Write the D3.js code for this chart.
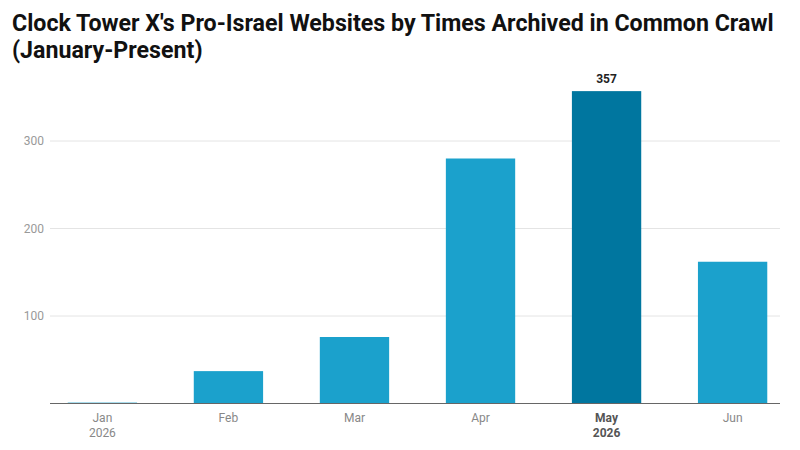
<!DOCTYPE html>
<html><head><meta charset="utf-8">
<script src="https://cdn.jsdelivr.net/npm/d3@7"></script>
<style>body{margin:0;background:#fff;font-family:Roboto,sans-serif}</style>
</head><body>
<svg id="chart" width="800" height="450"></svg>
<script>
var months = ["Jan", "Feb", "Mar", "Apr", "May", "Jun"];
var years = ["2026", "", "", "", "2026", ""];
var counts = [1, 37, 76, 280, 357, 162];
var highlight = "May";
var yTicks = [100, 200, 300];

var svg = d3.select("#chart");
var margin = {left: 50, right: 20, top: 90, bottom: 47};
var W = 800, H = 450;

svg.append("text").attr("x", 12).attr("y", 31)
  .attr("font-size", 23.2).attr("font-weight", "bold").attr("fill", "#111")
  .text("Clock Tower X's Pro-Israel Websites by Times Archived in Common Crawl");
svg.append("text").attr("x", 12).attr("y", 58)
  .attr("font-size", 23.2).attr("font-weight", "bold").attr("fill", "#111")
  .text("(January-Present)");

var x = d3.scaleBand().domain(months).range([40, 795]).paddingInner(0.45).paddingOuter(0.22);
var y = d3.scaleLinear().domain([0, 400]).range([403.5, 53.5]);

// grid
svg.selectAll("line.grid").data(yTicks).enter().append("line")
  .attr("x1", margin.left).attr("x2", 780)
  .attr("y1", function(d) { return y(d); }).attr("y2", function(d) { return y(d); })
  .attr("stroke", "#e4e4e4");
svg.selectAll("text.ytick").data(yTicks).enter().append("text")
  .attr("x", 44).attr("y", function(d) { return y(d) + 4; })
  .attr("text-anchor", "end").attr("font-size", 12).attr("fill", "#999")
  .text(function(d) { return d; });

// bars
svg.selectAll("rect.bar").data(counts).enter().append("rect")
  .attr("x", function(d, i) { return x(months[i]); })
  .attr("width", x.bandwidth())
  .attr("y", function(d) { return y(d); })
  .attr("height", function(d) { return y(0) - y(d); })
  .attr("fill", function(d, i) { return months[i] == highlight ? "#00769f" : "#1ba1cc"; });

// value label for highlighted bar
var hi = months.indexOf(highlight);
svg.append("text").attr("x", x(highlight) + x.bandwidth() / 2).attr("y", y(counts[hi]) - 8)
  .attr("text-anchor", "middle").attr("font-size", 12).attr("font-weight", "bold").attr("fill", "#222")
  .text(counts[hi]);

// baseline
svg.append("line").attr("x1", margin.left).attr("x2", 780)
  .attr("y1", y(0)).attr("y2", y(0)).attr("stroke", "#666").attr("stroke-width", 1.2);

// x labels
months.forEach(function(m, i) {
  var cx = x(m) + x.bandwidth() / 2;
  var bold = m == highlight;
  var t = svg.append("text").attr("x", cx).attr("y", 422)
    .attr("text-anchor", "middle").attr("font-size", 12)
    .attr("fill", bold ? "#555" : "#888").attr("font-weight", bold ? "bold" : "normal");
  t.append("tspan").attr("x", cx).text(m);
  if (years[i]) t.append("tspan").attr("x", cx).attr("dy", 15).text(years[i]);
});
</script>
</body></html>
